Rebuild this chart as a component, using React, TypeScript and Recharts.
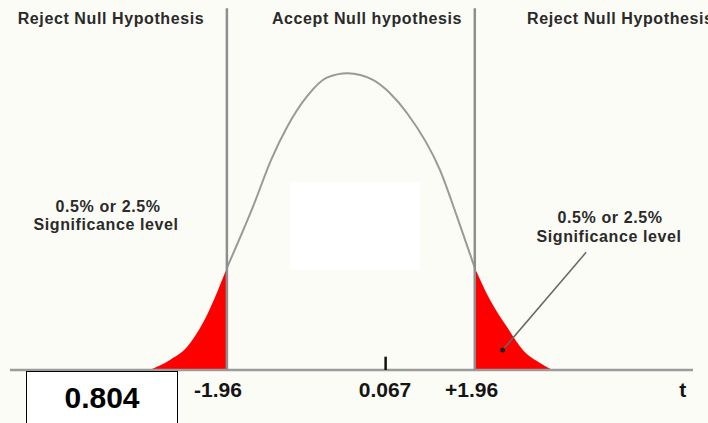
import React from 'react';
import {
  ComposedChart,
  Line,
  Area,
  XAxis,
  YAxis,
  ReferenceLine,
  ReferenceArea,
  ReferenceDot,
} from 'recharts';

// t values and curve heights
const tPoints = [-3.18, -2.86, -2.59, -2.34, -1.96, -1.55, -1.26, -1.01, -0.7, -0.38, -0.05, 0.35, 0.62, 0.89, 1.41, 1.68, 1.96, 2.2, 2.47, 2.72, 2.99, 3.19];
const density = [0, 0.0135, 0.031, 0.0635, 0.138, 0.22, 0.284, 0.328, 0.369, 0.395, 0.401, 0.392, 0.374, 0.347, 0.27, 0.207, 0.138, 0.095, 0.058, 0.027, 0.0095, 0];

const critical = 1.96;

// axis labels
const tickPositions = [-2.1, 0.54, 1.91, 5.25];
const tickLabels = ['-1.96', '0.067', '+1.96', 't'];

const markerT = 0.55;
const pValue = '0.804';

const regionTitles = ['Reject Null Hypothesis', 'Accept Null hypothesis', 'Reject Null Hypothesis'];
const sigLabel = ['0.5% or 2.5%', 'Significance level'];

const FONT = '"Liberation Sans", Arial, sans-serif';
const BG = '#fcfcf6';
const RED = '#fe0000';
const GREY = '#999999';

const chartData = tPoints.map((t, i) => ({
  t,
  body: t >= -critical && t <= critical ? density[i] : null,
  left: t <= -critical ? density[i] : null,
  right: t >= critical ? density[i] : null,
}));

const labelStyle = { fontFamily: FONT, fontWeight: 'bold' as const, fill: '#2a2a2a' };

export default function App() {
  return (
    <div style={{ position: 'absolute', left: 0, top: 0, width: 708, height: 423, background: BG, overflow: 'hidden' }}>
      <ComposedChart width={708} height={423} data={chartData} margin={{ top: 0, right: 3, left: 3, bottom: 0 }}>
        <XAxis
          dataKey="t"
          type="number"
          domain={[-5.5, 5.6]}
          ticks={tickPositions}
          interval={0}
          height={53}
          axisLine={false}
          tickLine={false}
          tickSize={0}
          tickMargin={12}
          tickFormatter={(v: number) => tickLabels[tickPositions.indexOf(v)] ?? ''}
          tick={{ fontSize: 21, fontWeight: 'bold', fill: '#151515', fontFamily: FONT }}
        />
        <YAxis hide type="number" domain={[0, 0.5]} allowDataOverflow />
        <ReferenceArea x1={-0.96} x2={1.09} y1={0.135} y2={0.254} fill="#ffffff" fillOpacity={1} stroke="none" />
        <ReferenceLine segment={[{ x: -5.39, y: 0 }, { x: 5.41, y: 0 }]} stroke="#9c9c9c" strokeWidth={2.5} />
        <Area type="monotone" dataKey="left" fill={RED} fillOpacity={1} stroke="none" isAnimationActive={false} />
        <Area type="monotone" dataKey="right" fill={RED} fillOpacity={1} stroke="none" isAnimationActive={false} />
        <Line type="monotone" dataKey="body" stroke={GREY} strokeWidth={2} dot={false} isAnimationActive={false} />
        <ReferenceLine segment={[{ x: -critical, y: 0 }, { x: -critical, y: 0.489 }]} stroke="#8e8e8e" strokeWidth={2.5} />
        <ReferenceLine segment={[{ x: critical, y: 0 }, { x: critical, y: 0.489 }]} stroke="#8e8e8e" strokeWidth={2.5} />
        <ReferenceLine segment={[{ x: markerT, y: 0 }, { x: markerT, y: 0.018 }]} stroke="#111" strokeWidth={2.5} />
        <ReferenceLine segment={[{ x: 3.72, y: 0.159 }, { x: 2.4, y: 0.027 }]} stroke="#666" strokeWidth={1.5} />
        <ReferenceDot x={2.4} y={0.027} r={2.5} fill="#222" stroke="none" />
      </ComposedChart>

      <div
        style={{
          position: 'absolute',
          left: 26,
          top: 371,
          width: 150,
          height: 70,
          background: '#ffffff',
          border: '1.5px solid #000',
        }}
      />

      <svg width={708} height={423} style={{ position: 'absolute', left: 0, top: 0, pointerEvents: 'none' }}>
        <g {...labelStyle} fontSize={16} letterSpacing={0.6}>
          <text x={111} y={24} textAnchor="middle">{regionTitles[0]}</text>
          <text x={367} y={24} textAnchor="middle">{regionTitles[1]}</text>
          <text x={527} y={24} textAnchor="start">{regionTitles[2]}</text>
          <text x={108} y={212} textAnchor="middle">{sigLabel[0]}</text>
          <text x={106} y={230} textAnchor="middle">{sigLabel[1]}</text>
          <text x={610} y={223} textAnchor="middle">{sigLabel[0]}</text>
          <text x={609} y={242} textAnchor="middle">{sigLabel[1]}</text>
        </g>
        <text x={102} y={408} textAnchor="middle" fontFamily={FONT} fontWeight="bold" fontSize={30} fill="#000">
          {pValue}
        </text>
      </svg>
    </div>
  );
}
